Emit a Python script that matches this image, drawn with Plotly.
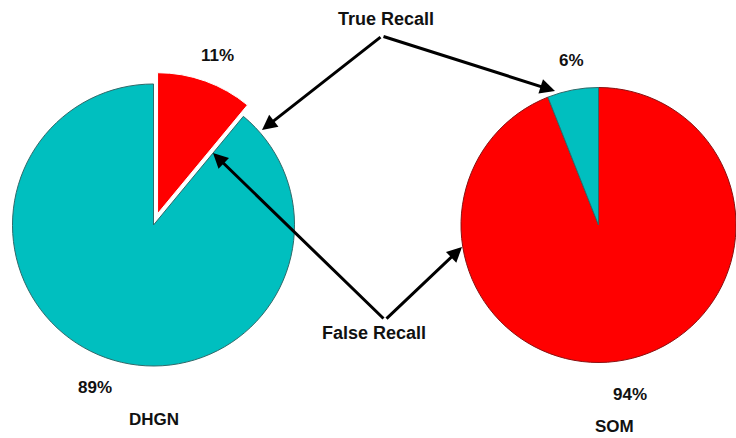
import plotly.graph_objects as go

W, H = 736, 438

# ---- data ----
categories = ["False Recall", "True Recall"]
dhgn_labels = ["False Recall", "True Recall"]
dhgn_values = [11, 89]
som_labels = ["False Recall", "True Recall"]
som_values = [94, 6]
model_names = ["DHGN", "SOM"]

RED = "#ff0000"
TEAL = "#00bfbf"
color_map = {"False Recall": RED, "True Recall": TEAL}
line_map_left = {"False Recall": "#ffffff", "True Recall": "#2f6a6a"}
line_map_right = {"False Recall": "#8a1010", "True Recall": "#2f6a6a"}


def px(x):
    return x / W


def py(y):
    return 1 - y / H


fig = go.Figure()

# DHGN pie (left), false recall slice pulled out
fig.add_trace(go.Pie(
    labels=dhgn_labels, values=dhgn_values, sort=False,
    direction="clockwise", rotation=0,
    pull=[0.085 if l == "False Recall" else 0 for l in dhgn_labels],
    marker=dict(colors=[color_map[l] for l in dhgn_labels],
                line=dict(color=[line_map_left[l] for l in dhgn_labels], width=1)),
    textinfo="none", hoverinfo="label+percent",
    domain=dict(x=[px(0), px(307)], y=[py(378), py(72)]),
    showlegend=False,
))

# SOM pie (right)
fig.add_trace(go.Pie(
    labels=som_labels, values=som_values, sort=False,
    direction="clockwise", rotation=0,
    marker=dict(colors=[color_map[l] for l in som_labels],
                line=dict(color=[line_map_right[l] for l in som_labels], width=1)),
    textinfo="none", hoverinfo="label+percent",
    domain=dict(x=[px(461), 1], y=[py(366), py(84)]),
    showlegend=False,
))

font = dict(family="Liberation Sans, Arial, sans-serif", size=18, color="#111111")
annotations = []


def text(t, x, y, size=18):
    annotations.append(dict(text="<b>%s</b>" % t, x=px(x), y=py(y), xref="paper", yref="paper",
                            showarrow=False, xanchor="center", yanchor="middle",
                            font=dict(font, size=size)))


# percentage labels
dhgn_pos = {"False Recall": (217, 55), "True Recall": (95, 387)}
som_pos = {"True Recall": (571, 60), "False Recall": (630, 394)}
for l, v in zip(dhgn_labels, dhgn_values):
    text("%d%%" % v, *dhgn_pos[l], size=17)
for l, v in zip(som_labels, som_values):
    text("%d%%" % v, *som_pos[l], size=17)

# model names
text(model_names[0], 154, 419, size=17)
text(model_names[1], 614, 426, size=17)

# callout labels
text(categories[1], 386, 19)
text(categories[0], 374, 333)


def arrow(tip, vertex):
    annotations.append(dict(text="", x=px(tip[0]), y=py(tip[1]), xref="paper", yref="paper",
                            ax=vertex[0] - tip[0], ay=vertex[1] - tip[1],
                            showarrow=True, arrowhead=2, arrowsize=1, arrowwidth=3,
                            arrowcolor="#000000", standoff=0, startstandoff=0))


true_vertex = (382, 36)
false_vertex = (385, 320)
arrow((262, 130), true_vertex)
arrow((555, 91), true_vertex)
arrow((213, 153), false_vertex)
arrow((462, 247), false_vertex)

fig.update_layout(
    width=W, height=H,
    margin=dict(l=0, r=0, t=0, b=0),
    paper_bgcolor="white", plot_bgcolor="white",
    annotations=annotations,
)

fig.write_html("out.html", config={"displayModeBar": False},
               post_script="document.body.style.margin='0px';")
